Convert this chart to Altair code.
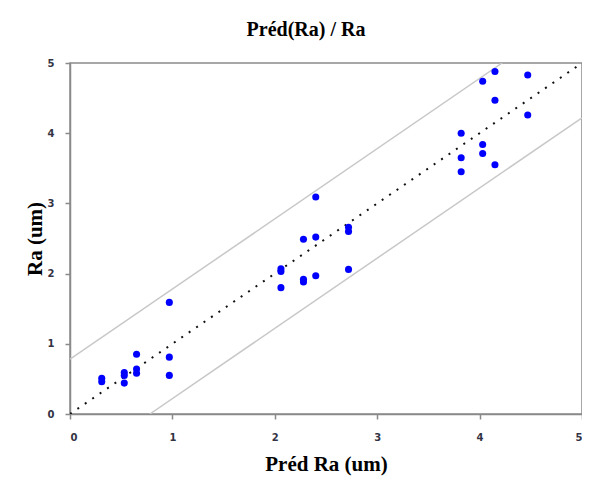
import altair as alt
import pandas as pd

# Measured points: predicted Ra (x) vs Ra (y)
pred_ra = [0.31, 0.31,
           0.53, 0.53, 0.53,
           0.65, 0.65, 0.65,
           0.97, 0.97, 0.97,
           2.06, 2.06, 2.06,
           2.28, 2.28, 2.28,
           2.40, 2.40, 2.40,
           2.72, 2.72, 2.72,
           3.82, 3.82, 3.82,
           4.03, 4.03, 4.03,
           4.15, 4.15, 4.15,
           4.47, 4.47]
ra = [0.51, 0.46,
      0.59, 0.55, 0.44,
      0.85, 0.64, 0.58,
      1.59, 0.81, 0.55,
      2.07, 2.03, 1.80,
      2.49, 1.92, 1.88,
      3.09, 2.52, 1.97,
      2.66, 2.60, 2.06,
      4.00, 3.65, 3.45,
      4.74, 3.84, 3.71,
      4.88, 4.47, 3.55,
      4.83, 4.26]

# Reference lines (endpoints)
line_names = ["ideal", "ideal", "upper", "upper", "lower", "lower"]
line_x = [0.0, 5.0, 0.0, 4.22, 0.78, 5.0]
line_y = [0.0, 5.0, 0.78, 5.0, 0.0, 4.22]

pts = pd.DataFrame({"x": pred_ra, "y": ra})
lines = pd.DataFrame({"name": line_names, "x": line_x, "y": line_y})

xs = alt.Scale(domain=[0, 5], nice=False, zero=True)
ys = alt.Scale(domain=[0, 5], nice=False, zero=True)

x_axis = alt.Axis(title="Préd Ra (um)", values=[0, 1, 2, 3, 4, 5], format="d",
                  grid=False, tickSize=5, labelPadding=13, titlePadding=11)
y_axis = alt.Axis(title="Ra (um)", values=[0, 1, 2, 3, 4, 5], format="d",
                  grid=False, tickSize=5, labelPadding=11, titlePadding=2)

band = alt.Chart(lines).transform_filter(
    alt.datum.name != "ideal"
).mark_line(color="#c8c8c8", strokeWidth=1.5, clip=True).encode(
    x=alt.X("x:Q", scale=xs, axis=x_axis),
    y=alt.Y("y:Q", scale=ys, axis=y_axis),
    detail="name:N",
)

ideal = alt.Chart(lines).transform_filter(
    alt.datum.name == "ideal"
).mark_line(color="#111111", strokeWidth=2, strokeDash=[2, 7], clip=True).encode(
    x=alt.X("x:Q", scale=xs),
    y=alt.Y("y:Q", scale=ys),
)

points = alt.Chart(pts).mark_circle(color="#0000ff", opacity=1, size=50).encode(
    x=alt.X("x:Q", scale=xs),
    y=alt.Y("y:Q", scale=ys),
)

chart = alt.layer(band, ideal, points).properties(
    width=512,
    height=351,
    background="white",
    title=alt.TitleParams("Préd(Ra) / Ra", font="Liberation Serif", fontSize=20,
                          fontWeight="bold", color="#000000", offset=18,
                          anchor="middle", dx=-20),
    autosize=alt.AutoSizeParams(type="none"),
    padding={"left": 62, "top": 55, "right": 0, "bottom": 64},
).configure_view(
    stroke="#8a8a8a", strokeWidth=1.5
).configure_axis(
    domainColor="#8a8a8a", domainWidth=1.5,
    tickColor="#8a8a8a", tickWidth=1.5,
    labelFont="DejaVu Sans", labelFontSize=10, labelFontWeight="bold",
    labelColor="#333344",
    titleFont="Liberation Serif", titleFontSize=21, titleFontWeight="bold",
    titleColor="#000000",
)

chart.save("out.html", embed_options={"renderer": "svg", "actions": False})
